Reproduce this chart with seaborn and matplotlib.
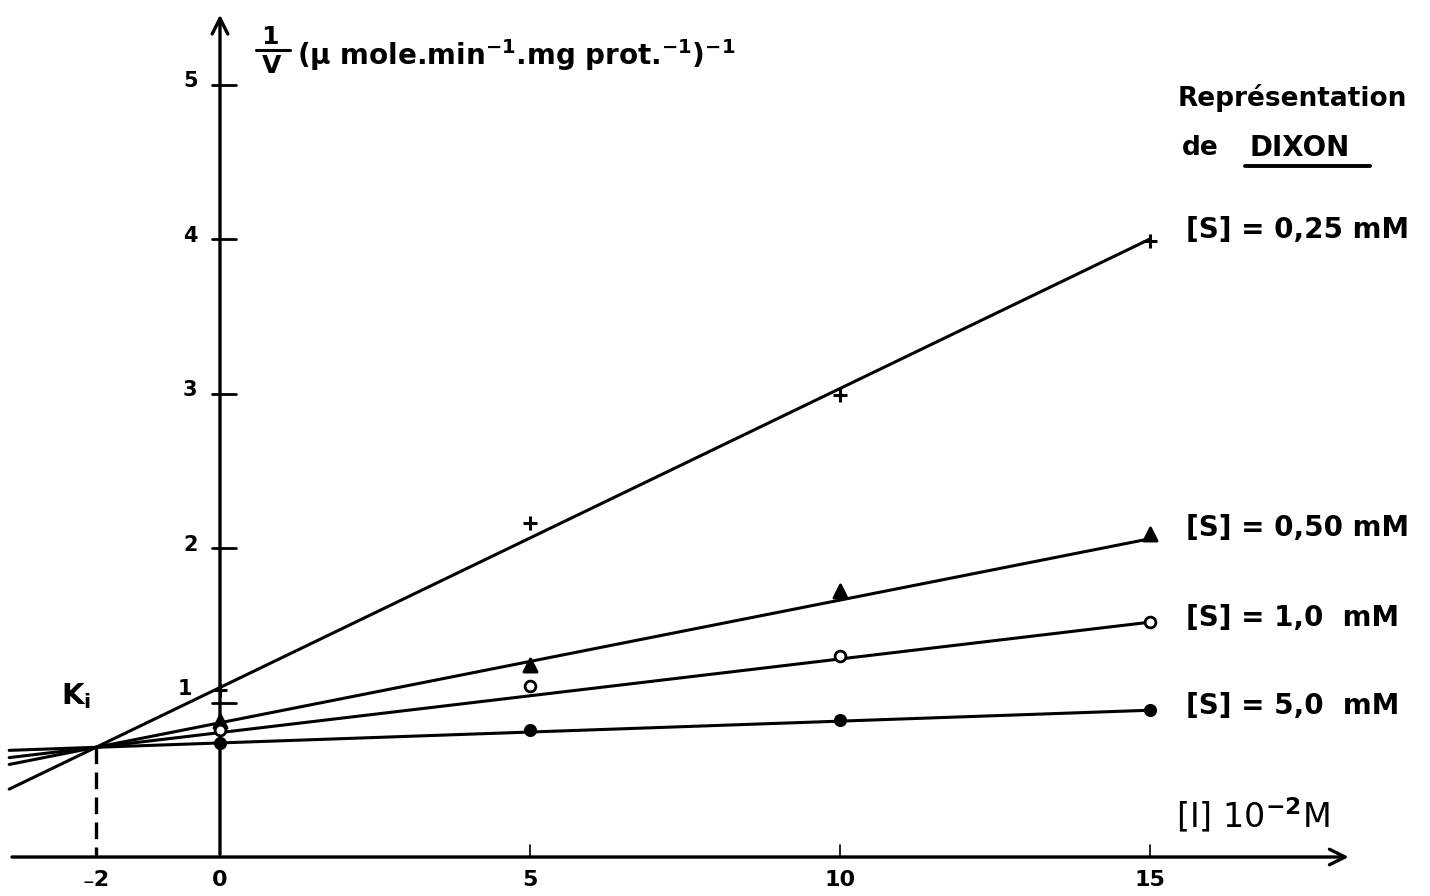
import numpy as np
import pandas as pd
import matplotlib
matplotlib.use("Agg")
import matplotlib.pyplot as plt
import seaborn as sns

sns.set_theme(style="white")
plt.rcParams["font.family"] = ["DejaVu Sans"]
plt.rcParams["mathtext.fontset"] = "dejavusans"
plt.rcParams["mathtext.default"] = "bf"
plt.rcParams["text.color"] = "black"

# inhibitor concentration [I] (10^-2 M)
inhibitor = [0, 5, 10, 15]

# 1/V measured for each substrate concentration
inv_v_s025 = [1.08, 2.16, 2.99, 3.99]
inv_v_s050 = [0.88, 1.24, 1.72, 2.09]
inv_v_s100 = [0.82, 1.11, 1.30, 1.52]
inv_v_s500 = [0.74, 0.82, 0.89, 0.95]

series_labels = ["[S] = 0,25 mM", "[S] = 0,50 mM", "[S] = 1,0  mM", "[S] = 5,0  mM"]

# fitted straight lines: common intersection at [I] = -Ki, and value of each at [I] = 15
ki_x = -2.0
ki_y = 0.71
fit_at_15 = [4.0, 2.06, 1.52, 0.95]
fit_start = -3.4

x_tick_values = [-2, 0, 5, 10, 15]
x_tick_labels = ["\u208b2", "0", "5", "10", "15"]
y_tick_values = [1, 2, 3, 4, 5]
y_tick_labels = ["1", "2", "3", "4", "5"]

series = [inv_v_s025, inv_v_s050, inv_v_s100, inv_v_s500]
markers = ["+", "^", "o", "o"]
marker_sizes = [110, 90, 60, 55]
marker_faces = ["black", "black", "white", "black"]

fig = plt.figure(figsize=(14.3, 8.96), dpi=100)
ax = fig.add_axes([0, 0, 1, 1])
ax.set_xlim(-3.548, 19.516)
ax.set_ylim(-0.2524, 5.547)
ax.axis("off")

# fitted lines
for end_val in fit_at_15:
    slope = (end_val - ki_y) / (15 - ki_x)
    xs = np.array([fit_start, 15.0])
    line_df = pd.DataFrame({"I": xs, "inv_v": ki_y + slope * (xs - ki_x)})
    sns.lineplot(data=line_df, x="I", y="inv_v", ax=ax, color="black", lw=2.2)

# measured points
for vals, mk, ms, fc in zip(series, markers, marker_sizes, marker_faces):
    pts = pd.DataFrame({"I": inhibitor, "inv_v": vals})
    if mk == "+":
        sns.scatterplot(data=pts, x="I", y="inv_v", ax=ax, marker="+", s=ms,
                        color="black", linewidth=2.2, zorder=5)
    else:
        sns.scatterplot(data=pts, x="I", y="inv_v", ax=ax, marker=mk, s=ms,
                        facecolor=fc, edgecolor="black", linewidth=2.0, zorder=5)

# hand-drawn style axes with arrow heads
ax.annotate("", xy=(18.25, 0), xytext=(-3.4, 0),
            arrowprops=dict(arrowstyle="->", lw=2.4, color="black", mutation_scale=28))
ax.annotate("", xy=(0, 5.47), xytext=(0, 0),
            arrowprops=dict(arrowstyle="->", lw=2.4, color="black", mutation_scale=28))

# ticks
for yv, lab in zip(y_tick_values, y_tick_labels):
    ax.plot([-0.13, 0.26], [yv, yv], color="black", lw=2.0)
    dy = 0.09 if yv == 1 else 0.02
    dx = -0.56 if yv == 1 else -0.48
    ax.text(dx, yv + dy, lab, ha="center", va="center", fontsize=15, fontweight="bold")
for xv, lab in zip(x_tick_values, x_tick_labels):
    if xv > 0:
        ax.plot([xv, xv], [0, 0.08], color="black", lw=1.2)
    ax.text(xv, -0.15, lab, ha="center", va="center", fontsize=16, fontweight="bold")

# Ki construction
ax.plot([ki_x, ki_x], [ki_y, 0], color="black", lw=2.4, ls=(0, (5, 2.5)))
ax.text(-2.57, 1.04, "K$_i$", ha="left", va="center", fontsize=21, fontweight="bold")

# axis titles
ax.text(0.80, 5.31, "1", ha="center", va="center", fontsize=18, fontweight="bold")
ax.plot([0.58, 1.13], [5.225, 5.225], color="black", lw=2.2)
ax.text(0.84, 5.12, "V", ha="center", va="center", fontsize=18, fontweight="bold")
ax.text(1.25, 5.19, r"($\mu$ mole.min$^{-1}$.mg prot.$^{-1}$)$^{-1}$",
        ha="left", va="center", fontsize=20, fontweight="bold")
ax.text(15.42, 0.27, r"[I] 10$^{-2}$M", ha="left", va="center", fontsize=24)

# title block
ax.text(15.45, 4.91, "Représentation", ha="left", va="center", fontsize=19, fontweight="bold")
ax.text(15.52, 4.59, "de", ha="left", va="center", fontsize=19, fontweight="bold")
ax.text(16.61, 4.59, "DIXON", ha="left", va="center", fontsize=20, fontweight="bold")
ax.plot([16.53, 18.55], [4.475, 4.475], color="black", lw=2.8)

# series labels
label_y = [4.06, 2.13, 1.55, 0.98]
for ly, lab in zip(label_y, series_labels):
    ax.text(15.58, ly, lab, ha="left", va="center", fontsize=20, fontweight="bold")

fig.savefig("out.png", dpi=100, facecolor="white")
